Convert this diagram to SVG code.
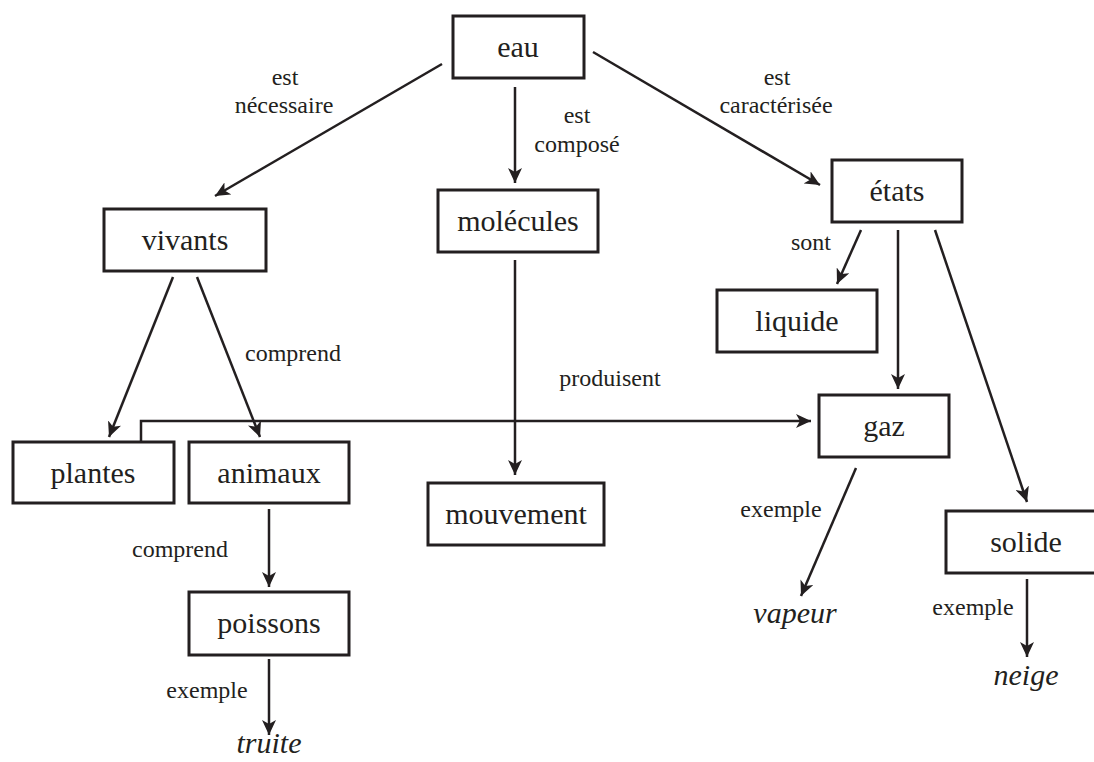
<svg xmlns="http://www.w3.org/2000/svg" width="1094" height="762" viewBox="0 0 1094 762">
<style>
.box{fill:#fff;stroke:#231f20;stroke-width:3}
text{font-family:'Liberation Serif','Tinos','Times New Roman',Times,'DejaVu Serif',serif;fill:#231f20;text-anchor:middle}
.nt{font-size:30px}
.lb{font-size:24px}
.it{font-size:30px;font-style:italic}
.ed{fill:none;stroke:#231f20;stroke-width:2.5}
</style>
<defs>
<marker id="ah" markerUnits="userSpaceOnUse" markerWidth="16" markerHeight="14" refX="15" refY="7" orient="auto">
<path d="M0,0 L15,7 L0,14 L4,7 z" fill="#231f20"/>
</marker>
</defs>
<rect width="1094" height="762" fill="#fff"/>
<g id="connectors">
<line class="ed" x1="442" y1="64" x2="215" y2="196" marker-end="url(#ah)"/>
<line class="ed" x1="515" y1="87" x2="515" y2="183" marker-end="url(#ah)"/>
<line class="ed" x1="593" y1="52" x2="820" y2="185" marker-end="url(#ah)"/>
<line class="ed" x1="173" y1="277" x2="109" y2="437" marker-end="url(#ah)"/>
<line class="ed" x1="197" y1="277" x2="260" y2="437" marker-end="url(#ah)"/>
<line class="ed" x1="515" y1="260" x2="515" y2="475" marker-end="url(#ah)"/>
<path class="ed" d="M141,442 V421 H811" marker-end="url(#ah)"/>
<line class="ed" x1="269" y1="509" x2="269" y2="587" marker-end="url(#ah)"/>
<line class="ed" x1="269" y1="659" x2="269" y2="735" marker-end="url(#ah)"/>
<line class="ed" x1="861" y1="230" x2="837" y2="284" marker-end="url(#ah)"/>
<line class="ed" x1="898" y1="230" x2="898" y2="389" marker-end="url(#ah)"/>
<line class="ed" x1="935" y1="230" x2="1027" y2="502" marker-end="url(#ah)"/>
<line class="ed" x1="856" y1="468" x2="801" y2="596" marker-end="url(#ah)"/>
<line class="ed" x1="1027" y1="579" x2="1027" y2="657" marker-end="url(#ah)"/>
<text class="lb" x="285" y="85">est</text>
<text class="lb" x="284" y="113">nécessaire</text>
<text class="lb" x="577" y="123">est</text>
<text class="lb" x="577" y="152">composé</text>
<text class="lb" x="777" y="85">est</text>
<text class="lb" x="776" y="113">caractérisée</text>
<text class="lb" x="811" y="250">sont</text>
<text class="lb" x="293" y="361">comprend</text>
<text class="lb" x="610" y="386">produisent</text>
<text class="lb" x="180" y="557">comprend</text>
<text class="lb" x="207" y="698">exemple</text>
<text class="lb" x="781" y="517">exemple</text>
<text class="lb" x="973" y="615">exemple</text>
</g>
<g id="eau"><rect class="box" x="453" y="16" width="131" height="62"/><text class="nt" x="518" y="57">eau</text></g>
<g id="molecules"><rect class="box" x="438" y="190" width="160" height="62"/><text class="nt" x="518" y="231">molécules</text></g>
<g id="vivants"><rect class="box" x="104" y="209" width="162" height="62"/><text class="nt" x="185" y="250">vivants</text></g>
<g id="etats"><rect class="box" x="832" y="160" width="130" height="62"/><text class="nt" x="897" y="201">états</text></g>
<g id="liquide"><rect class="box" x="717" y="290" width="160" height="62"/><text class="nt" x="797" y="331">liquide</text></g>
<g id="plantes"><rect class="box" x="13" y="442" width="161" height="61"/><text class="nt" x="93" y="483">plantes</text></g>
<g id="animaux"><rect class="box" x="189" y="442" width="160" height="61"/><text class="nt" x="269" y="483">animaux</text></g>
<g id="gaz"><rect class="box" x="819" y="395" width="130" height="62"/><text class="nt" x="884" y="436">gaz</text></g>
<g id="mouvement"><rect class="box" x="428" y="483" width="176" height="62"/><text class="nt" x="516" y="524">mouvement</text></g>
<g id="poissons"><rect class="box" x="189" y="592" width="160" height="63"/><text class="nt" x="269" y="633">poissons</text></g>
<g id="solide"><rect class="box" x="946" y="511" width="160" height="62"/><text class="nt" x="1026" y="552">solide</text></g>
<g id="vapeur"><text class="it" x="795" y="623">vapeur</text></g>
<g id="neige"><text class="it" x="1026" y="685">neige</text></g>
<g id="truite"><text class="it" x="269" y="753">truite</text></g>
</svg>
